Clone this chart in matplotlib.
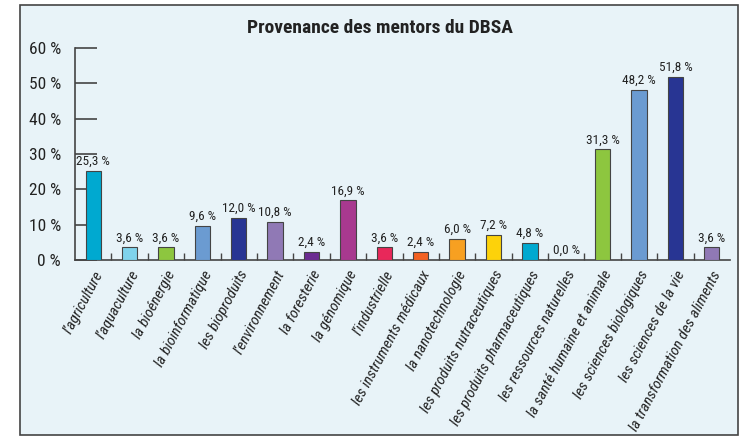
import matplotlib
matplotlib.use('Agg')
from matplotlib import pyplot as plt
from matplotlib import font_manager
from matplotlib.patches import Rectangle
import numpy as np

# condensed face if present, otherwise a plain sans
names = {f.name for f in font_manager.fontManager.ttflist}
family = [n for n in ['Liberation Sans Narrow', 'Roboto Condensed', 'Open Sans Condensed',
                      'DejaVu Sans Condensed', 'Liberation Sans'] if n in names][:1]
plt.rcParams['font.family'] = family + ['DejaVu Sans']

categories = [
    "l’agriculture", "l’aquaculture", "la bioénergie", "la bioinformatique",
    "les bioproduits", "l’environnement", "la foresterie", "la génomique",
    "l’industrielle", "les instruments médicaux", "la nanotechnologie",
    "les produits nutraceutiques", "les produits pharmaceutiques",
    "les ressources naturelles", "la santé humaine et animale",
    "les sciences biologiques", "les sciences de la vie",
    "la transformation des aliments",
]
values = [25.3, 3.6, 3.6, 9.6, 12.0, 10.8, 2.4, 16.9, 3.6, 2.4,
          6.0, 7.2, 4.8, 0.0, 31.3, 48.2, 51.8, 3.6]
colors = ['#00a9d0', '#7fd3ec', '#8dc63f', '#6b9bd1', '#283593', '#9079b5',
          '#6b2c91', '#a8398f', '#e8285a', '#f26122', '#f7a021', '#fdd20a',
          '#00a9d0', '#00a9d0', '#8dc63f', '#6b9bd1', '#283593', '#9079b5']
yticks = [0, 10, 20, 30, 40, 50, 60]

bg = '#e8f3f8'
fig = plt.figure(figsize=(7.46, 4.37), dpi=100)
fig.patch.set_facecolor('white')
# outer frame
frame = Rectangle((20/746, 2/437), 718/746, 430/437, transform=fig.transFigure,
                  facecolor=bg, edgecolor='#444444', linewidth=1.2, zorder=-10)
fig.patches.append(frame)

ax = fig.add_axes([75/746, 177/437, 655/746, 212/437])
ax.set_zorder(5)
ax.set_facecolor('none')
x = np.arange(len(values))
ax.bar(x, values, width=0.42, color=colors, edgecolor='#444444', linewidth=0.8, zorder=3)

for xi, v in zip(x, values):
    lbl = ('%.1f %%' % v).replace('.', ',')
    ax.text(xi, v + 0.8, lbl, ha='center', va='bottom', fontsize=9.5, color='#222222')

ax.set_xlim(-0.5, 17.5)
ax.set_ylim(0, 60)
ax.set_yticks(yticks)
ax.set_yticklabels(['%d %%' % t for t in yticks], fontsize=12.5, color='#222222')
ax.tick_params(axis='y', direction='in', length=16, width=1.2, color='#444444', pad=10)

ax.set_xticks(x)
ax.set_xticklabels(categories, rotation=62, ha='right', rotation_mode='anchor',
                   fontsize=11, style='italic', color='#222222')
ax.tick_params(axis='x', length=0, pad=6)
ax.set_xticks(np.arange(0.5, 17.5, 1), minor=True)
ax.tick_params(axis='x', which='minor', direction='in', length=5, width=1, color='#444444')

for s in ['top', 'right']:
    ax.spines[s].set_visible(False)
ax.spines['left'].set_color('#444444')
ax.spines['bottom'].set_color('#444444')
ax.spines['left'].set_linewidth(1.2)
ax.spines['bottom'].set_linewidth(1.2)

fig.text(380/746, 1 - 28/437, 'Provenance des mentors du DBSA', ha='center', va='center',
         fontsize=14, fontweight='bold', color='#222222')

fig.savefig('out.png', dpi=100, facecolor='white')
